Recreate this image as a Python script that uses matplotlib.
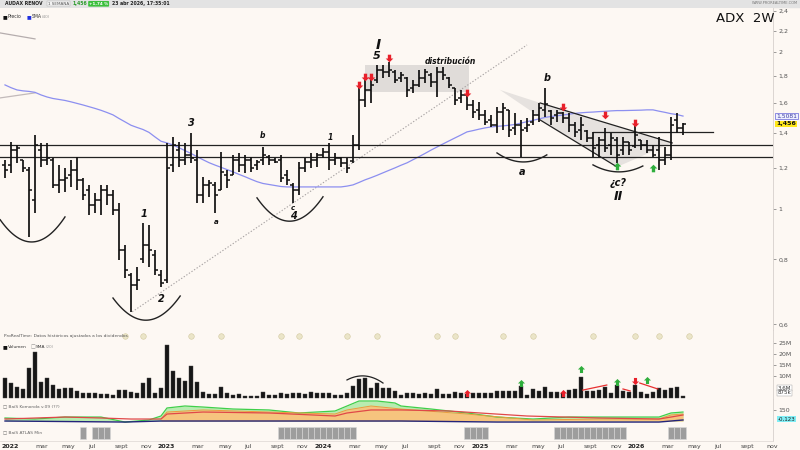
# AUDAX RENOV, 2 week bars, with volume, Komonda and ATLAS panels (ProRealTime style)

import numpy as np
import pandas as pd
import matplotlib
matplotlib.use("Agg")
import matplotlib.pyplot as plt
from matplotlib.path import Path
from matplotlib.patches import Rectangle, Polygon
from matplotlib.transforms import blended_transform_factory
from matplotlib.ticker import FixedLocator, FuncFormatter, NullLocator

# ---------------- data ----------------
# one bar every two weeks, first bar starts 2021-12-20
start_date = "2021-12-20"

opens = [1.215, 1.215, 1.298, 1.242, 1.188, 1.041, 1.298, 1.242, 1.242, 1.112,
         1.137, 1.162, 1.188, 1.137, 1.088, 1.018, 1.041, 1.088, 1.064, 0.996,
         0.834, 0.747, 0.714, 0.800, 0.853, 0.816, 0.747, 0.730, 1.215, 1.298,
         1.242, 1.270, 1.242, 1.064, 1.112, 1.112, 1.088, 1.162, 1.162, 1.242,
         1.215, 1.242, 1.215, 1.242, 1.259, 1.242, 1.242, 1.162, 1.112, 1.088,
         1.199, 1.231, 1.242, 1.270, 1.287, 1.242, 1.253, 1.226, 1.235, 1.327,
         1.620, 1.693, 1.770, 1.850, 1.834, 1.834, 1.785, 1.785, 1.708, 1.731,
         1.785, 1.809, 1.754, 1.834, 1.785, 1.708, 1.634, 1.656, 1.584, 1.550,
         1.516, 1.482, 1.450, 1.536, 1.550, 1.431, 1.450, 1.431, 1.470, 1.516,
         1.550, 1.540, 1.516, 1.529, 1.496, 1.450, 1.419, 1.410, 1.369, 1.327,
         1.357, 1.327, 1.357, 1.298, 1.345, 1.320, 1.357, 1.327, 1.298, 1.298,
         1.242, 1.270, 1.482, 1.431]
highs = [1.242, 1.345, 1.327, 1.242, 1.204, 1.387, 1.339, 1.339, 1.253, 1.215,
         1.199, 1.242, 1.259, 1.147, 1.112, 1.074, 1.112, 1.112, 1.088, 1.027,
         0.853, 0.753, 0.774, 0.940, 0.932, 0.834, 0.763, 1.339, 1.375, 1.345,
         1.339, 1.400, 1.298, 1.152, 1.137, 1.127, 1.287, 1.188, 1.270, 1.281,
         1.270, 1.259, 1.242, 1.315, 1.270, 1.253, 1.270, 1.188, 1.122, 1.231,
         1.253, 1.281, 1.281, 1.309, 1.339, 1.281, 1.259, 1.253, 1.387, 1.716,
         1.809, 1.793, 1.891, 1.891, 1.916, 1.850, 1.834, 1.793, 1.770, 1.850,
         1.858, 1.826, 1.875, 1.875, 1.793, 1.708, 1.693, 1.671, 1.620, 1.606,
         1.550, 1.516, 1.570, 1.598, 1.550, 1.529, 1.482, 1.496, 1.550, 1.598,
         1.708, 1.550, 1.550, 1.536, 1.529, 1.470, 1.503, 1.419, 1.406, 1.375,
         1.431, 1.400, 1.375, 1.375, 1.345, 1.463, 1.357, 1.357, 1.327, 1.375,
         1.315, 1.503, 1.529, 1.463]
lows = [1.147, 1.173, 1.226, 1.178, 0.883, 0.983, 1.204, 1.215, 1.098, 1.074,
        1.079, 1.103, 1.088, 1.041, 0.974, 0.983, 0.974, 1.018, 0.974, 0.798,
        0.737, 0.634, 0.699, 0.788, 0.774, 0.747, 0.709, 0.720, 1.178, 1.204,
        1.215, 1.226, 1.027, 1.027, 1.055, 0.983, 1.088, 1.098, 1.162, 1.178,
        1.173, 1.178, 1.188, 1.215, 1.215, 1.226, 1.127, 1.112, 1.027, 1.064,
        1.178, 1.199, 1.204, 1.253, 1.188, 1.215, 1.204, 1.173, 1.226, 1.298,
        1.570, 1.598, 1.746, 1.785, 1.793, 1.746, 1.754, 1.641, 1.671, 1.716,
        1.746, 1.716, 1.641, 1.770, 1.708, 1.584, 1.598, 1.550, 1.496, 1.482,
        1.450, 1.437, 1.400, 1.419, 1.375, 1.387, 1.259, 1.406, 1.450, 1.470,
        1.503, 1.450, 1.470, 1.463, 1.406, 1.375, 1.357, 1.345, 1.259, 1.259,
        1.287, 1.270, 1.226, 1.270, 1.270, 1.309, 1.298, 1.281, 1.259, 1.188,
        1.215, 1.242, 1.400, 1.387]
closes = [1.188, 1.298, 1.309, 1.199, 1.088, 1.327, 1.242, 1.253, 1.112, 1.137,
          1.147, 1.188, 1.137, 1.064, 1.018, 1.041, 1.088, 1.064, 0.996, 0.834,
          0.763, 0.714, 0.730, 0.853, 0.834, 0.763, 0.720, 1.199, 1.327, 1.242,
          1.270, 1.253, 1.064, 1.112, 1.122, 1.064, 1.178, 1.137, 1.242, 1.215,
          1.242, 1.199, 1.231, 1.270, 1.242, 1.231, 1.147, 1.137, 1.088, 1.199,
          1.231, 1.242, 1.270, 1.287, 1.242, 1.253, 1.226, 1.199, 1.327, 1.620,
          1.693, 1.731, 1.850, 1.834, 1.850, 1.770, 1.809, 1.693, 1.731, 1.785,
          1.834, 1.754, 1.834, 1.809, 1.731, 1.620, 1.656, 1.584, 1.536, 1.516,
          1.470, 1.450, 1.536, 1.563, 1.419, 1.450, 1.419, 1.450, 1.516, 1.563,
          1.591, 1.496, 1.529, 1.496, 1.450, 1.406, 1.450, 1.369, 1.309, 1.357,
          1.309, 1.369, 1.270, 1.345, 1.298, 1.387, 1.327, 1.298, 1.270, 1.242,
          1.270, 1.450, 1.431, 1.456]
sma40 = [1.731, 1.710, 1.693, 1.686, 1.682, 1.675, 1.656, 1.641, 1.630, 1.623,
         1.616, 1.606, 1.595, 1.584, 1.572, 1.560, 1.547, 1.532, 1.516, 1.492,
         1.470, 1.448, 1.434, 1.421, 1.403, 1.375, 1.349, 1.339, 1.327, 1.311,
         1.294, 1.278, 1.260, 1.243, 1.227, 1.214, 1.202, 1.190, 1.178, 1.165,
         1.153, 1.140, 1.128, 1.119, 1.114, 1.109, 1.104, 1.102, 1.102, 1.102,
         1.102, 1.102, 1.102, 1.102, 1.102, 1.102, 1.102, 1.106, 1.112, 1.124,
         1.137, 1.148, 1.160, 1.173, 1.186, 1.199, 1.213, 1.226, 1.243, 1.260,
         1.278, 1.297, 1.315, 1.333, 1.351, 1.369, 1.387, 1.406, 1.414, 1.423,
         1.431, 1.437, 1.441, 1.444, 1.448, 1.453, 1.462, 1.471, 1.480, 1.489,
         1.499, 1.505, 1.510, 1.515, 1.521, 1.526, 1.530, 1.533, 1.535, 1.538,
         1.540, 1.543, 1.545, 1.545, 1.546, 1.547, 1.548, 1.550, 1.550, 1.541,
         1.533, 1.524, 1.518, 1.508]
# volume in millions of shares
volume_m = [9.0, 6.7, 5.2, 4.0, 13.5, 21.0, 7.4, 9.0, 5.9, 4.0,
            4.4, 4.4, 3.3, 2.4, 2.4, 2.4, 1.8, 1.8, 1.4, 3.6,
            3.6, 2.7, 2.1, 6.7, 9.0, 2.1, 4.7, 24.0, 12.4, 9.0,
            7.9, 14.5, 7.4, 2.7, 1.6, 1.6, 5.2, 2.1, 1.4, 1.6,
            1.0, 0.9, 0.9, 2.9, 1.2, 1.2, 2.1, 1.8, 2.4, 2.4,
            1.8, 2.9, 2.1, 2.4, 2.4, 1.2, 1.2, 2.1, 5.6, 8.5,
            9.0, 4.7, 7.0, 4.4, 4.4, 3.1, 1.4, 2.4, 2.1, 1.8,
            2.4, 1.8, 4.0, 1.8, 1.8, 2.7, 2.1, 1.8, 2.1, 2.1,
            2.1, 2.1, 3.0, 3.0, 3.0, 3.0, 5.6, 1.2, 4.0, 3.0,
            5.2, 2.7, 2.7, 2.1, 3.6, 4.0, 9.7, 3.3, 3.3, 3.6,
            5.0, 2.4, 6.1, 3.3, 2.7, 5.9, 2.7, 1.6, 2.7, 4.4,
            3.6, 4.5, 5.0, 0.875]

# Komonda indicator, sampled at these bars
k_green_idx = [0, 5, 10, 16, 20, 24, 26, 27, 30, 33, 38, 44, 49, 55, 57, 59, 62, 65,
               66, 71, 77, 82, 88, 94, 99, 105, 109, 111, 113]
k_green = [41, 27, 54, 54, -14, 14, 68, 177, 204, 190, 163, 150, 109, 136, 204, 272,
           272, 245, 204, 163, 109, 54, 27, 54, 54, 54, 54, 109, 122]
k_orange_idx = [26, 27, 33, 44, 55, 57, 61, 66, 77, 88, 99, 109, 111, 113]
k_orange = [27, 122, 150, 122, 95, 150, 204, 163, 95, 14, 27, 27, 82, 95]
k_red_idx = [0, 10, 16, 21, 26, 27, 33, 44, 55, 57, 61, 66, 74, 87, 99, 109, 111, 113]
k_red = [27, 54, 41, 27, 27, 95, 122, 109, 68, 109, 150, 150, 136, 68, 41, 27, 54, 82]
k_blue_idx = [0, 20, 26, 66, 82, 109, 113]
k_blue = [0, -14, 0, 0, -14, -14, 14]

# ATLAS signal: runs of bars (first, last)
atlas_runs = [(13, 13), (15, 17), (46, 58), (77, 80), (92, 103), (111, 113)]

# dividend marks (bar index)
dividend_bars = [20, 23, 31, 36, 46, 49, 57, 62, 72, 75, 83, 88, 98, 105, 109, 114]

# support lines and drawings
support_levels = [1.327, 1.259]
trend_pts = ([21.2, 87.0], [0.634, 2.066])
box_level = 1.406
distribution_box = (60, 77.3, 1.678, 1.891)

# red / green signal arrows on price
red_arrows = [(59, 1.731), (60, 1.793), (61, 1.793), (64, 1.95), (77, 1.671),
              (93, 1.570), (100, 1.516), (105, 1.463)]
green_arrows = [(102, 1.210), (108, 1.199)]
# arrows on volume
vol_red_up = [(77, 2.3), (93, 2.3)]
vol_red_down = [(105, 7.7)]
vol_green_up = [(86, 6.8), (96, 13.2), (102, 7.3), (107, 8.2)]

# wave count labels: text, bar, price, size
wave_labels = [("I", 62.2, 2.066, 10), ("5", 62.0, 1.968, 8), ("3", 31.0, 1.463, 7),
               ("b", 43.0, 1.381, 5.5), ("1", 54.2, 1.369, 5.5), ("1", 23.2, 0.978, 7),
               ("2", 26.0, 0.671, 7), ("a", 35.2, 0.944, 5), ("c", 48.0, 1.004, 5),
               ("4", 48.0, 0.969, 7), ("b", 90.3, 1.785, 7), ("a", 86.2, 1.178, 7),
               ("¿c?", 102.2, 1.122, 7), ("II", 102.2, 1.055, 9),
               ("distribución", 74.2, 1.916, 5.5)]

# arcs: three points each (bar, price)
arcs = [([-0.8, 4.7, 10.0], [0.953, 0.864, 0.965]),
        ([18.0, 24.2, 29.2], [0.674, 0.612, 0.680]),
        ([42.0, 48.0, 53.0], [1.050, 0.948, 1.055]),
        ([82.0, 86.2, 90.3], [1.281, 1.231, 1.270]),
        ([98.0, 102.5, 106.3], [1.215, 1.178, 1.209])]
vol_arc = ([57.0, 60.0, 63.0], [8.2, 10.0, 6.8])

price_ticks = [0.6, 0.8, 1.0, 1.2, 1.4, 1.6, 1.8, 2.0, 2.2, 2.4]
month_names = {1: None, 3: "mar", 5: "may", 7: "jul", 9: "sept", 11: "nov"}

# ---------------- figure ----------------
BG = "#fdf8f3"
W, H = 800, 450
fig = plt.figure(figsize=(8, 4.5), dpi=100, facecolor=BG)


def px_axes(top, bottom, left=0, right=773):
    a = fig.add_axes([left / W, 1 - bottom / H, (right - left) / W, (bottom - top) / H])
    a.set_facecolor(BG)
    for s in ["left", "top"]:
        a.spines[s].set_visible(False)
    a.spines["right"].set_color("#d6d0cc")
    a.spines["bottom"].set_color("#e2dcd8")
    a.spines["right"].set_linewidth(0.6)
    a.spines["bottom"].set_linewidth(0.6)
    a.set_xlim(-0.83, 128)
    a.set_xticks([])
    a.yaxis.tick_right()
    a.tick_params(axis="y", labelsize=4.5, length=2, width=0.4, pad=2,
                  colors="#555555")
    return a


def ftext(x, y, s, **kw):
    fig.text(x / W, 1 - y / H, s, va="center", **kw)


n = len(closes)
x = np.arange(n)

# header strip
fig.add_artist(Rectangle((0, 1 - 7 / H), 1, 7 / H, transform=fig.transFigure,
                         color="#e3e3e3", zorder=0))
ftext(5, 3.8, "AUDAX RENOV", fontsize=3.3, weight="bold", color="#222")
ftext(48, 3.8, "1 SEMANA", fontsize=3.0, color="#555",
      bbox=dict(boxstyle="square,pad=0.15", fc="#f4f4f4", ec="#aaa", lw=0.3))
ftext(73, 3.8, "1,456", fontsize=3.3, weight="bold", color="#2a9a2a")
ftext(89, 3.8, "+1,74 %", fontsize=3.0, weight="bold", color="white",
      bbox=dict(boxstyle="round,pad=0.2", fc="#3cbf3c", ec="none"))
ftext(112, 3.8, "23 abr 2026, 17:35:01", fontsize=3.3, weight="bold", color="#222")
ftext(752, 3.5, "WWW.PROREALTIME.COM", fontsize=2.6, color="#777")

# ---------------- price panel ----------------
ax = px_axes(8, 330)
ax.set_yscale("log")
ax.set_ylim(0.585, 2.433)
ax.yaxis.set_major_locator(FixedLocator(price_ticks))
ax.yaxis.set_minor_locator(NullLocator())
ax.yaxis.set_major_formatter(FuncFormatter(lambda v, p: f"{v:g}".replace(".", ",")))

# distribution box and wedge shading
x0, x1, y0, y1 = distribution_box
ax.add_patch(Rectangle((x0, y0), x1 - x0, y1 - y0, fc="#d9d6d3", ec="none",
                       alpha=0.8, zorder=1))
ax.add_patch(Polygon([(82.5, 1.693), (89.2, 1.598), (89.2, 1.50)], closed=True,
                     fc="#e6e2df", ec="none", zorder=1))
ax.add_patch(Polygon([(89.2, 1.598), (111.2, 1.339), (102.0, 1.204), (89.2, 1.482)],
                     closed=True, fc="#e6e2df", ec="none", zorder=1))
ax.plot([89.2, 111.2], [1.598, 1.339], color="#222", lw=0.9, zorder=3)
ax.plot([89.2, 102.0], [1.482, 1.204], color="#222", lw=0.9, zorder=3)
ax.plot([98, 118], [box_level, box_level], color="#222", lw=0.9, zorder=3)

for lvl in support_levels:
    ax.axhline(lvl, color="#222", lw=0.9, zorder=3)

ax.plot(trend_pts[0], trend_pts[1], color="#a9a4a4", lw=0.8, ls=(0, (1.2, 1.6)), zorder=2)
ax.plot([-0.83, 5], [2.179, 2.122], color="#b5adad", lw=0.9)
ax.plot([-0.83, 5], [1.634, 1.671], color="#c2baba", lw=0.9)

# SMA
ax.plot(x, sma40, color="#8c8ff0", lw=0.9, zorder=2)

# OHLC bars
ax.vlines(x, lows, highs, color="#111", lw=1.25, zorder=4)
ax.hlines(opens, x - 0.42, x, color="#111", lw=1.1, zorder=4)
ax.hlines(closes, x, x + 0.42, color="#111", lw=1.1, zorder=4)

# arcs
for ax_pts, ay_pts in arcs:
    c = np.polyfit(ax_pts, np.log(ay_pts), 2)
    xx = np.linspace(ax_pts[0], ax_pts[-1], 60)
    ax.plot(xx, np.exp(np.polyval(c, xx)), color="#222", lw=1.0, zorder=3)

# arrows
down_arrow = Path([(-0.22, 0.5), (0.22, 0.5), (0.22, 0.0), (0.5, 0.0), (0.0, -0.5),
                   (-0.5, 0.0), (-0.22, 0.0), (-0.22, 0.5)], closed=True)
up_arrow = Path([(vx, -vy) for vx, vy in down_arrow.vertices], closed=True)
ax.scatter([a[0] for a in red_arrows], [a[1] for a in red_arrows], marker=down_arrow,
           s=30, color="#e8202a", zorder=6, linewidths=0)
ax.scatter([a[0] for a in green_arrows], [a[1] for a in green_arrows], marker=up_arrow,
           s=30, color="#2fae3c", zorder=6, linewidths=0)

for txt, bx, py, fs in wave_labels:
    ax.text(bx, py, txt, fontsize=fs, style="italic", weight="bold", color="#111",
            ha="center", va="center", zorder=7)

# last value labels
bt = blended_transform_factory(ax.transAxes, ax.transData)
ax.text(1.004, 1.508, "1,5081", transform=bt, fontsize=4.3, color="#3a3aa0",
        va="center", bbox=dict(boxstyle="square,pad=0.15", fc="#eef0ff", ec="#4040d0",
                               lw=0.4))
ax.text(1.004, 1.456, "1,456", transform=bt, fontsize=4.5, weight="bold", color="#111",
        va="center", bbox=dict(boxstyle="square,pad=0.15", fc="#ffe81a", ec="none"))

ftext(3, 17, "■", fontsize=3.6, color="#111")
ftext(8, 17, "Precio", fontsize=3.3, color="#333")
ftext(27, 17, "■", fontsize=3.6, color="#2030e0")
ftext(32, 17, "SMA", fontsize=3.3, color="#333")
ftext(42, 17, "(40)", fontsize=3.0, color="#999")
ftext(716, 18, "ADX  2W", fontsize=9.5, color="#111")

# ---------------- dividends strip ----------------
dax = px_axes(330, 341)
dax.set_ylim(0, 1)
dax.set_yticks([])
dax.scatter(dividend_bars, [0.5] * len(dividend_bars), s=16, fc="#ebe5c8",
            ec="#d3c99e", lw=0.4, zorder=3)
ftext(4, 336, "ProRealTime: Datos históricos ajustados a los dividendos",
      fontsize=3.2, color="#555")

# ---------------- volume panel ----------------
vax = px_axes(341, 399)
vax.set_ylim(-0.45, 25.9)
vax.bar(x, volume_m, width=0.8, color="#161616", ec="#444", lw=0.3, zorder=2)
vax.set_yticks([10, 15, 20, 25])
vax.set_yticklabels(["10M", "15M", "20M", "25M"])
c = np.polyfit(vol_arc[0], vol_arc[1], 2)
xx = np.linspace(vol_arc[0][0], vol_arc[0][-1], 40)
vax.plot(xx, np.polyval(c, xx), color="#222", lw=0.9, zorder=3)
vax.plot([96.3, 100.3], [3.6, 5.9], color="#e83030", lw=0.9, zorder=3)
vax.plot([103.0, 104.2], [4.1, 3.2], color="#e83030", lw=0.9, zorder=3)
vax.plot([105.8, 108.8], [6.8, 4.1], color="#e83030", lw=0.9, zorder=3)
vax.scatter([a[0] for a in vol_red_up], [a[1] for a in vol_red_up], marker=up_arrow,
            s=26, color="#e8202a", zorder=5, linewidths=0)
vax.scatter([a[0] for a in vol_red_down], [a[1] for a in vol_red_down],
            marker=down_arrow, s=26, color="#e8202a", zorder=5, linewidths=0)
vax.scatter([a[0] for a in vol_green_up], [a[1] for a in vol_green_up], marker=up_arrow,
            s=26, color="#2fae3c", zorder=5, linewidths=0)
vbt = blended_transform_factory(vax.transAxes, vax.transData)
vax.text(1.006, 4.6, "3,6M", transform=vbt, fontsize=4, color="#333", va="center",
         bbox=dict(boxstyle="square,pad=0.1", fc="white", ec="#999", lw=0.3))
vax.text(1.006, 2.4, "875k", transform=vbt, fontsize=4, color="#333", va="center",
         bbox=dict(boxstyle="square,pad=0.1", fc="white", ec="#999", lw=0.3))
ftext(3, 347, "■", fontsize=3.6, color="#111")
ftext(8, 347, "Volumen", fontsize=3.2, color="#333")
ftext(31, 347, "□", fontsize=3.6, color="#888")
ftext(36, 347, "SMA", fontsize=3.2, color="#333")
ftext(46, 347, "(20)", fontsize=2.9, color="#999")

# ---------------- Komonda panel ----------------
kax = px_axes(399, 423)
kax.set_ylim(-27, 299)
kax.fill_between(k_green_idx, k_green, 0, color="#b8ecb0", lw=0, zorder=1)
kax.plot(k_green_idx, k_green, color="#3fcf4a", lw=0.9, zorder=3)
kax.fill_between(k_orange_idx, k_orange, 0, color="#f6c47e", lw=0, zorder=2)
kax.plot(k_orange_idx, k_orange, color="#ef9a3c", lw=0.7, zorder=3)
kax.plot(k_red_idx, k_red, color="#e04848", lw=0.9, zorder=4)
kax.plot(k_blue_idx, k_blue, color="#24247a", lw=1.0, zorder=4)
kax.set_yticks([150])
kax.set_yticklabels(["150"])
kbt = blended_transform_factory(kax.transAxes, kax.transData)
kax.text(1.006, 27, "-0,123", transform=kbt, fontsize=4, color="#222", va="center",
         bbox=dict(boxstyle="square,pad=0.1", fc="#80eef5", ec="none"))
ftext(3, 406, "□ BaiS Komonda v.09 (??)", fontsize=3.2, color="#666")

# ---------------- ATLAS panel ----------------
aax = px_axes(423, 441)
aax.set_ylim(0, 1)
aax.set_yticks([])
for first, last in atlas_runs:
    bars = np.arange(first, last + 1)
    aax.bar(bars, [0.67] * len(bars), bottom=0.11, width=0.85, color="#9d9d9d",
            ec="#d8d8d8", lw=0.4, zorder=2)
ftext(3, 432, "□ BaiS ATLAS Min", fontsize=3.2, color="#666")

# date axis
dates = pd.date_range("2022-01-01", "2026-11-01", freq="2MS")
t0 = pd.Timestamp(start_date)
tick_pos = [(d - t0).days / 14 for d in dates]
tick_lab = [str(d.year) if d.month == 1 else month_names[d.month] for d in dates]
aax.set_xticks(tick_pos)
aax.set_xticklabels(tick_lab)
aax.tick_params(axis="x", length=0, labelsize=4.5, pad=2, colors="#444")
for lab, d in zip(aax.get_xticklabels(), dates):
    if d.month == 1:
        lab.set_fontweight("bold")
        lab.set_color("#222")
    else:
        lab.set_horizontalalignment("left")

plt.savefig("out.png", dpi=100, facecolor=BG)
